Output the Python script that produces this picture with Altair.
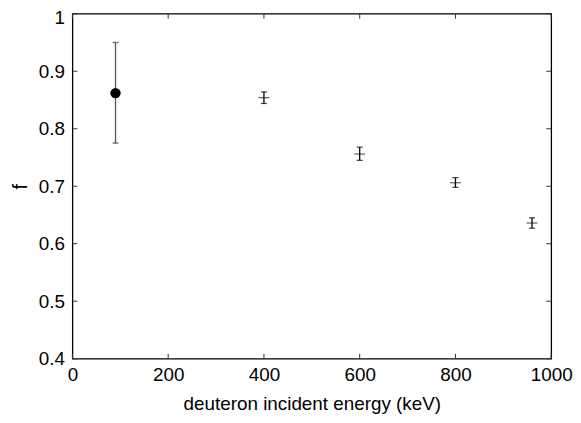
import altair as alt
import pandas as pd

# Data
first_x = [90]
first_y = [0.862]
first_lo = [0.775]
first_hi = [0.950]

energy = [400, 600, 800, 960]
f_val = [0.854, 0.756, 0.706, 0.636]
f_lo = [0.844, 0.745, 0.698, 0.627]
f_hi = [0.864, 0.768, 0.715, 0.645]

x_ticks = [0, 200, 400, 600, 800, 1000]
y_ticks = [0.4, 0.5, 0.6, 0.7, 0.8, 0.9, 1.0]

first = pd.DataFrame({"x": first_x, "y": first_y, "lo": first_lo, "hi": first_hi})
rest = pd.DataFrame({"x": energy, "y": f_val, "lo": f_lo, "hi": f_hi})
xt = pd.DataFrame({"t": x_ticks})
yt = pd.DataFrame({"t": y_ticks})

W, H = 483, 348
FONT = "Liberation Sans"
FS = 19

xs = alt.Scale(domain=[0, 1000], nice=False)
ys = alt.Scale(domain=[0.4, 1.0], nice=False, zero=False)

xaxis = alt.Axis(values=x_ticks, title="deuteron incident energy (keV)", ticks=False,
                 domain=False, grid=False, labelPadding=7, labelFontSize=FS,
                 titleFontSize=FS, titleFontWeight="normal", titlePadding=10,
                 format="d",
                 labelColor="black", titleColor="black", labelFont=FONT, titleFont=FONT,
                 labelFlush=False)
yaxis = alt.Axis(values=y_ticks, title="f", ticks=False, domain=False, grid=False,
                 labelPadding=8, labelFontSize=FS, titleFontSize=FS + 1,
                 titleFontWeight="normal", titlePadding=8, format=".1~f",
                 labelOffset={"condition": {"test": "datum.value >= 0.99", "value": 4}, "value": 0},
                 labelColor="black", titleColor="black", labelFont=FONT, titleFont=FONT,
                 labelFlush=False)

base_first = alt.Chart(first)
bar1 = base_first.mark_rule(color="#555555", strokeWidth=1.3).encode(
    x=alt.X("x:Q", scale=xs, axis=xaxis),
    y=alt.Y("lo:Q", scale=ys, axis=yaxis),
    y2="hi:Q")
cap1a = base_first.mark_tick(orient="horizontal", color="#333333", size=6, thickness=1.3).encode(
    x=alt.X("x:Q", scale=xs), y=alt.Y("lo:Q", scale=ys))
cap1b = base_first.mark_tick(orient="horizontal", color="#333333", size=6, thickness=1.3).encode(
    x=alt.X("x:Q", scale=xs), y=alt.Y("hi:Q", scale=ys))
pt1 = base_first.mark_circle(color="black", opacity=1, size=110).encode(
    x=alt.X("x:Q", scale=xs), y=alt.Y("y:Q", scale=ys))

base = alt.Chart(rest)
bars = base.mark_rule(color="black", strokeWidth=1.3).encode(
    x=alt.X("x:Q", scale=xs), y=alt.Y("lo:Q", scale=ys), y2="hi:Q")
capa = base.mark_tick(orient="horizontal", color="black", size=6, thickness=1.3).encode(
    x=alt.X("x:Q", scale=xs), y=alt.Y("lo:Q", scale=ys))
capb = base.mark_tick(orient="horizontal", color="black", size=6, thickness=1.3).encode(
    x=alt.X("x:Q", scale=xs), y=alt.Y("hi:Q", scale=ys))
plus = base.mark_tick(orient="horizontal", color="black", size=11, thickness=1.1).encode(
    x=alt.X("x:Q", scale=xs), y=alt.Y("y:Q", scale=ys))

TL = 5
tcol = "#333333"
xb = alt.Chart(xt).mark_rule(color=tcol, strokeWidth=1).encode(
    x=alt.X("t:Q", scale=xs), y=alt.value(H), y2=alt.value(H - TL))
xtop = alt.Chart(xt).mark_rule(color=tcol, strokeWidth=1).encode(
    x=alt.X("t:Q", scale=xs), y=alt.value(0), y2=alt.value(TL))
yl = alt.Chart(yt).mark_rule(color=tcol, strokeWidth=1).encode(
    y=alt.Y("t:Q", scale=ys), x=alt.value(0), x2=alt.value(TL))
yr = alt.Chart(yt).mark_rule(color=tcol, strokeWidth=1).encode(
    y=alt.Y("t:Q", scale=ys), x=alt.value(W), x2=alt.value(W - TL))

chart = alt.layer(bar1, cap1a, cap1b, pt1, bars, capa, capb, plus, xb, xtop, yl, yr).properties(
    width=W, height=H,
    autosize=alt.AutoSizeParams(type="none"),
    padding={"left": 65, "top": 4, "right": 22, "bottom": 55},
    background="white",
).configure_view(stroke="black", strokeWidth=1.3)

chart.save("out.html", embed_options={"renderer": "svg", "actions": False})
